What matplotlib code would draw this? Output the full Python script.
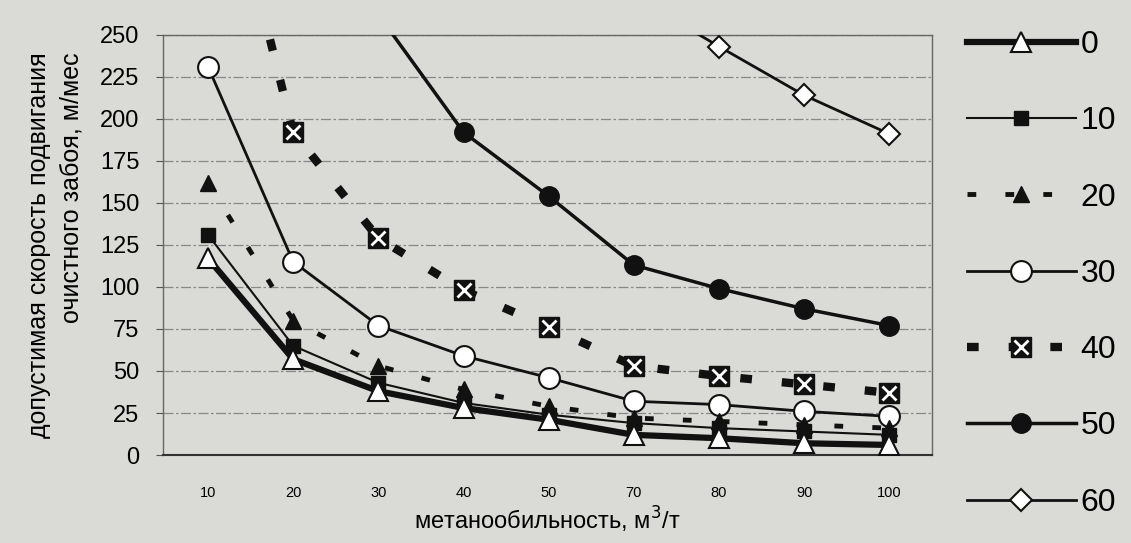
import numpy as np
import matplotlib
matplotlib.use("Agg")
import matplotlib.pyplot as plt
from matplotlib.legend_handler import HandlerTuple

plt.rcParams['font.family'] = ['Liberation Sans', 'DejaVu Sans']

# Данные
categories = ["10", "20", "30", "40", "50", "70", "80", "90", "100"]
nan = np.nan
s0 = [117, 57, 38, 28, 21, 12, 10, 7, 6]
s10 = [131, 65, 43, 31, 24, 19, 16, 14, 12]
s20 = [162, 80, 53, 39, 29, 22, 20, 18, 16]
s30 = [231, 115, 77, 59, 46, 32, 30, 26, 23]
s40 = [395, 192, 129, 98, 76, 53, 47, 42, 37]
s50 = [nan, nan, 262, 192, 154, 113, 99, 87, 77]
s60 = [nan, nan, nan, nan, nan, 273, 243, 214, 191]
legend_labels = ["0", "10", "20", "30", "40", "50", "60"]
yticks = list(range(0, 251, 25))

bg = '#dadad7'
fig = plt.figure(figsize=(11.31, 5.43), dpi=100, facecolor=bg)
ax = fig.add_axes([0.144, 0.162, 0.680, 0.774], facecolor=bg)

x = np.arange(len(categories))

l60, = ax.plot(x, s60, color='#111', lw=2, marker='D', ms=11, mfc='white', mec='#111', mew=1.5, zorder=3)
l50, = ax.plot(x, s50, color='#111', lw=2.5, marker='o', ms=14, mfc='#111', mec='#111', zorder=3)
l40, = ax.plot(x, s40, color='#111', lw=6, ls=(0, (1.4, 3.6)), marker='s', ms=15, mfc='#111', mec='#111', zorder=3)
x40, = ax.plot(x, s40, ls='none', marker='x', ms=10, mec='white', mew=2, zorder=3.1)
l30, = ax.plot(x, s30, color='#111', lw=2, marker='o', ms=15, mfc='white', mec='#111', mew=1.5, zorder=4)
l20, = ax.plot(x, s20, color='#111', lw=3.5, ls=(0, (1.8, 6)), marker='^', ms=11, mfc='#111', mec='#111', zorder=4)
l10, = ax.plot(x, s10, color='#111', lw=1.5, marker='s', ms=10, mfc='#111', mec='#111', zorder=5)
l0, = ax.plot(x, s0, color='#111', lw=4.5, marker='^', ms=15, mfc='white', mec='#111', mew=1.5, zorder=6)

ax.set_xlim(-0.53, 8.5)
ax.set_ylim(0, 250)
ax.set_yticks(yticks)
ax.set_xticks(x)
ax.set_xticklabels(categories, fontsize=10.5)
ax.tick_params(axis='y', labelsize=17, length=5, color='#555', pad=12)
ax.tick_params(axis='x', length=0, pad=22)
ax.yaxis.grid(True, color='#888', lw=0.9, ls=(0, (8, 2, 2, 2)))
ax.set_axisbelow(True)
for sp in ax.spines.values():
    sp.set_color('#666')
    sp.set_linewidth(1)
ax.spines['bottom'].set_color('#333')
ax.spines['bottom'].set_linewidth(1.5)

ax.set_xlabel("метанообильность, м$^3$/т", fontsize=17, labelpad=4)
ax.set_ylabel("допустимая скорость подвигания\nочистного забоя, м/мес", fontsize=18,
              labelpad=12, multialignment='right', linespacing=1.45)

handles = [l0, l10, l20, l30, (l40, x40), l50, l60]
fig.legend(handles, legend_labels, loc='upper left', bbox_to_anchor=(967 / 1131, 0.945),
           frameon=False, fontsize=23, handlelength=3.4, handletextpad=0.15,
           borderaxespad=0, borderpad=0, labelspacing=1.45,
           handler_map={tuple: HandlerTuple(ndivide=1, pad=0)})

fig.savefig("out.png", dpi=100, facecolor=bg)
